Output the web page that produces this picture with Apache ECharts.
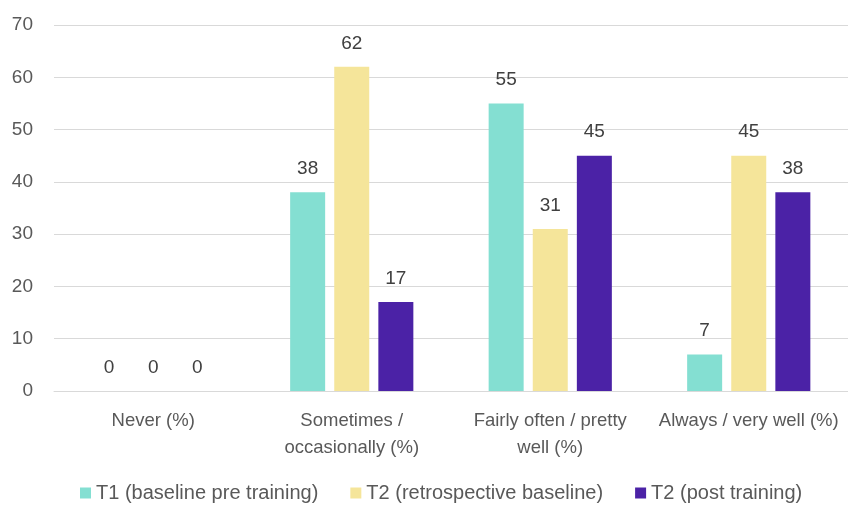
<!DOCTYPE html>
<html>
<head>
<meta charset="utf-8">
<script src="https://cdn.jsdelivr.net/npm/echarts@6/dist/echarts.min.js"></script>
<style>
  html, body { margin: 0; padding: 0; background: #fff; }
  #chart { width: 848px; height: 506px; }
</style>
</head>
<body>
<div id="chart"></div>
<script>
// categories and values
const categories = ['Never (%)', 'Sometimes /\noccasionally (%)', 'Fairly often / pretty\nwell (%)', 'Always / very well (%)'];
const seriesNames = ['T1 (baseline pre training)', 'T2 (retrospective baseline)', 'T2 (post training)'];
const t1Baseline = [0, 38, 55, 7];
const t2Retro = [0, 62, 31, 45];
const t2Post = [0, 17, 45, 38];
const colors = ['#84DFD2', '#F5E59A', '#4B22A6'];

const chart = echarts.init(document.getElementById('chart'));

const makeSeries = (name, data, color) => ({
  name: name,
  type: 'bar',
  data: data,
  barWidth: 35,
  barGap: '26%',
  itemStyle: { color: color },
  label: {
    show: true,
    position: 'top',
    distance: 14,
    color: '#404040',
    fontSize: 19,
    fontFamily: 'Liberation Sans'
  }
});

const option = {
  animation: false,
  color: colors,
  grid: { left: 54, right: 0, top: 25, bottom: 115 },
  legend: {
    top: 483,
    left: 80,
    padding: 0,
    itemWidth: 11,
    itemHeight: 11,
    itemGap: 32,
    icon: 'rect',
    textStyle: { color: '#595959', fontSize: 20, fontFamily: 'Liberation Sans' },
    data: seriesNames
  },
  xAxis: {
    type: 'category',
    data: categories,
    axisLine: { lineStyle: { color: '#d9d9d9' } },
    axisTick: { show: false },
    axisLabel: {
      color: '#595959',
      fontSize: 18.5,
      fontFamily: 'Liberation Sans',
      lineHeight: 27,
      margin: 16,
      interval: 0
    }
  },
  yAxis: {
    type: 'value',
    min: 0,
    max: 70,
    interval: 10,
    axisLine: { show: false },
    axisTick: { show: false },
    splitLine: { lineStyle: { color: '#d9d9d9', width: 1 } },
    axisLabel: { color: '#595959', fontSize: 19, fontFamily: 'Liberation Sans', margin: 21 }
  },
  series: [
    makeSeries(seriesNames[0], t1Baseline, colors[0]),
    makeSeries(seriesNames[1], t2Retro, colors[1]),
    makeSeries(seriesNames[2], t2Post, colors[2])
  ]
};

chart.setOption(option);
</script>
</body>
</html>
